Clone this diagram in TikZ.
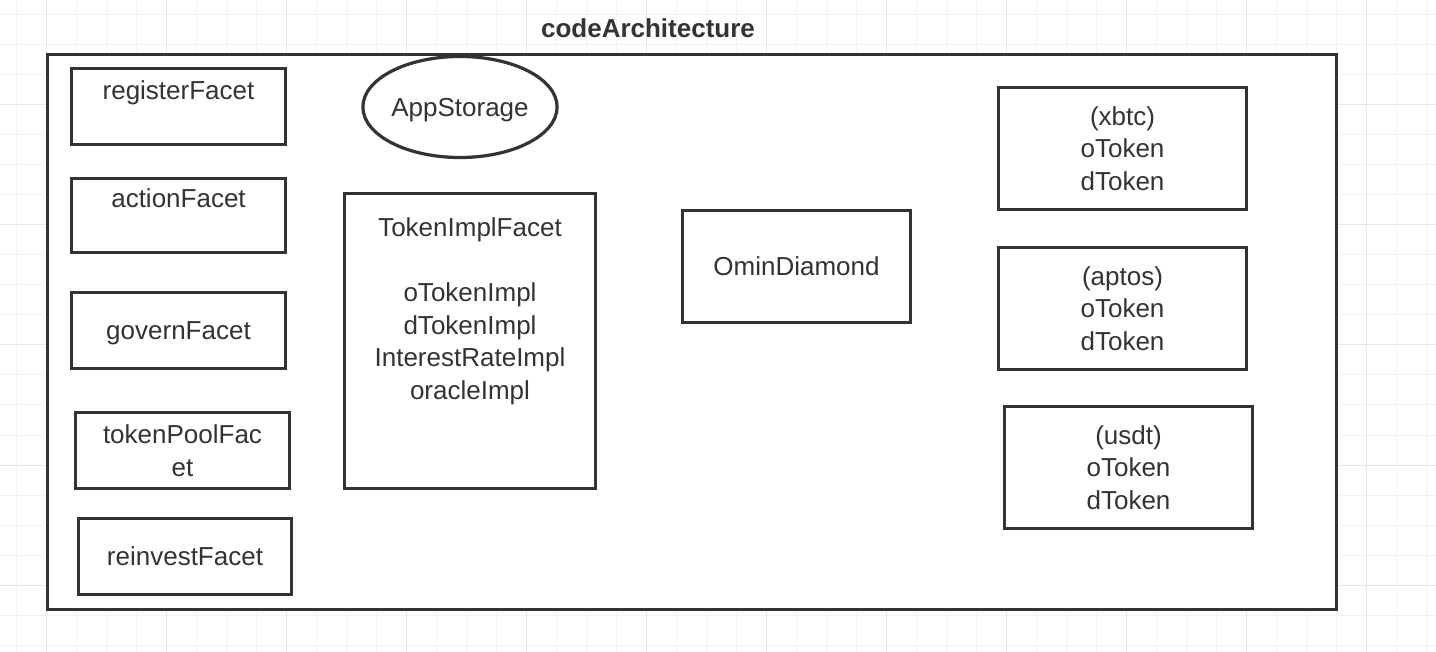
\documentclass[tikz,border=0pt]{standalone}
\usepackage{fontspec}
\setmainfont{Liberation Sans}
\usetikzlibrary{shapes.geometric}
\definecolor{ink}{HTML}{333333}
\definecolor{gridlight}{HTML}{F3F3F3}
\definecolor{griddark}{HTML}{E7E7E7}
\tikzset{
  box/.style={draw=ink, line width=2.4pt, fill=white, inner sep=0pt, text=ink,
    font=\fontsize{19.5}{24.4}\selectfont, align=center},
  sz/.style 2 args={minimum width=#1*0.75pt, minimum height=#2*0.75pt},
  txt/.style={text=ink, font=\fontsize{19.5}{24.4}\selectfont, align=center, inner sep=0pt},
}
\begin{document}
\begin{tikzpicture}[x=0.75pt, y=-0.75pt]
\useasboundingbox (0,0) rectangle (1436,652);
% background grid
\foreach \x in {16,46,...,1426} \draw[gridlight, line width=0.75pt] (\x,0)--(\x,652);
\foreach \y in {15,45,...,645} \draw[gridlight, line width=0.75pt] (0,\y)--(1436,\y);
\foreach \x in {46,166,...,1366} \draw[griddark, line width=0.75pt] (\x,0)--(\x,652);
\foreach \y in {105,225,...,585} \draw[griddark, line width=0.75pt] (0,\y)--(1436,\y);

\node[txt, font=\fontsize{19.5}{24.4}\selectfont\bfseries] (title) at (648,28) {codeArchitecture};
\node[box, sz={1289}{555}] (frame) at (692,332) {};

% facets on the left
\node[box, sz={214}{76}] (reg) at (178.5,106.5) {};
\node[txt, anchor=base] (reg-t) at (178.5,100) {registerFacet};
\node[box, sz={214}{74}] (act) at (178.5,215.5) {};
\node[txt, anchor=base] (act-t) at (178.5,208) {actionFacet};
\node[box, sz={214}{76}, text depth=0pt] (gov) at (178.5,330.5) {governFacet};
\node[box, sz={214}{76}] (pool) at (182.5,450.5) {tokenPoolFac\\et};
\node[box, sz={213}{76}] (reinv) at (185,556.5) {reinvestFacet};

\node[box, ellipse, sz={187}{101}, text depth=0pt] (store) at (460,107) {AppStorage};
\node[box, sz={251}{295}] (impl) at (470,341) {};
\node[txt, anchor=base] (impl-t) at (470,399.5)
  {TokenImplFacet\\[24.4pt]oTokenImpl\\dTokenImpl\\InterestRateImpl\\oracleImpl};

\node[box, sz={228}{112}] (omin) at (796.5,266.5) {OminDiamond};

% tokens on the right
\node[box, sz={248}{122}] (xbtc) at (1122.5,148.5) {(xbtc)\\oToken\\dToken};
\node[box, sz={248}{122}] (aptos) at (1122.5,308.5) {(aptos)\\oToken\\dToken};
\node[box, sz={248}{122}] (usdt) at (1128.5,467.5) {(usdt)\\oToken\\dToken};
\end{tikzpicture}
\end{document}
